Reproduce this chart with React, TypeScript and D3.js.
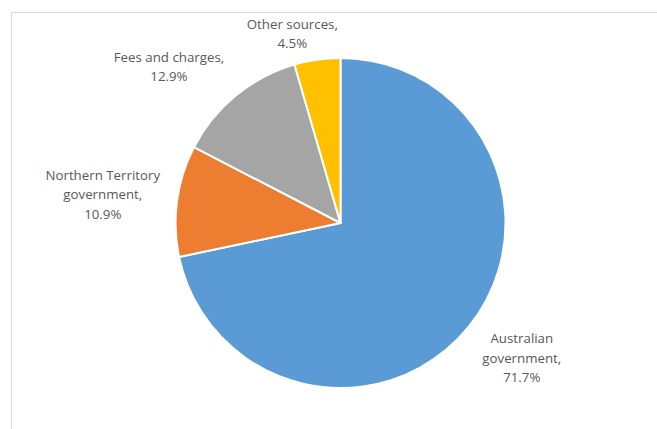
import React from "react";
import * as d3 from "d3";

const categories = ["Australian government", "Northern Territory government", "Fees and charges", "Other sources"];
const labelLines = [
  ["Australian", "government,", "71.7%"],
  ["Northern Territory", "government,", "10.9%"],
  ["Fees and charges,", "12.9%"],
  ["Other sources,", "4.5%"],
];
const values = [71.7, 10.9, 12.9, 4.5];
const colors = ["#5B9BD5", "#ED7D31", "#A5A5A5", "#FFC000"];

const W = 657;
const H = 429;
const cx = 340.5;
const cy = 223;
const R = 165;
const FONT = "'Open Sans', 'Noto Sans', sans-serif";
const FS = 13.3;
const LH = 19.5;
const AREA_TOP = 12;

function measure(text: string): number {
  if (typeof document === "undefined") return text.length * 7;
  const c = document.createElement("canvas");
  const ctx = c.getContext("2d")!;
  ctx.font = `${FS}px ${FONT}`;
  return ctx.measureText(text).width;
}

const clamp = (v: number) => Math.max(-1, Math.min(1, v));

export default function App() {
  const pie = d3.pie<number>().sort(null).value((d) => d);
  const arcs = pie(values);
  const arc = d3.arc<d3.PieArcDatum<number>>().innerRadius(0).outerRadius(R);

  return (
    <svg width={W} height={H} style={{ position: "absolute", left: 0, top: 0, background: "#fff" }}>
      <rect x={11.5} y={12.5} width={700} height={500} fill="#fff" stroke="#d9d9d9" strokeWidth={1} />
      <g transform={`translate(${cx},${cy})`}>
        {arcs.map((a, i) => (
          <path key={categories[i]} d={arc(a) || ""} fill={colors[i]} stroke="#fff" strokeWidth={2} strokeLinejoin="round" />
        ))}
      </g>
      {arcs.map((a, i) => {
        const lines = labelLines[i];
        const mid = (a.startAngle + a.endAngle) / 2;
        const s = Math.sin(mid);
        const c = Math.cos(mid);
        const ar = R + 15;
        const ax = cx + ar * s;
        const ay = cy - ar * c;
        const w = Math.max(...lines.map(measure));
        const h = lines.length * LH;
        const bx = ax + (w / 2 + 2) * clamp(s * 3.4);
        let by = ay - (h / 2) * clamp(c * 1.15);
        if (by - h / 2 < AREA_TOP + 2) by = AREA_TOP + 2 + h / 2;
        const y0 = by - h / 2 + LH / 2;
        return (
          <text key={categories[i]} fontFamily={FONT} fontSize={FS} fill="#595959" textAnchor="middle">
            {lines.map((l, j) => (
              <tspan key={j} x={bx} y={y0 + j * LH} dominantBaseline="central">
                {l}
              </tspan>
            ))}
          </text>
        );
      })}
    </svg>
  );
}
